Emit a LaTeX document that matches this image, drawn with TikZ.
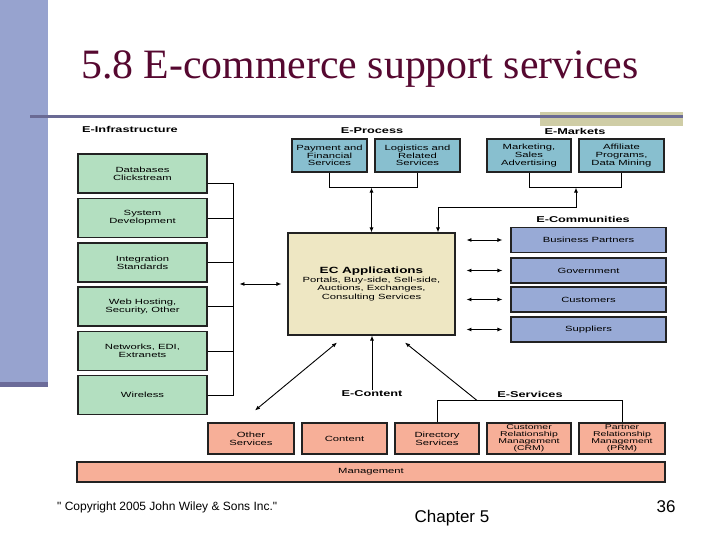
\documentclass[tikz,border=0pt]{standalone}
\usepackage{fontspec}
\setmainfont{Liberation Serif}
\newfontfamily\dg[FakeStretch=1.5]{Liberation Sans}
\newfontfamily\ft{Liberation Sans}
\usetikzlibrary{arrows.meta, calc}
\definecolor{bar}{HTML}{97A3CF}
\definecolor{bardark}{HTML}{6B6B99}
\definecolor{rule}{HTML}{6A6A94}
\definecolor{khaki}{HTML}{CFCDA6}
\definecolor{ttl}{HTML}{560830}
\definecolor{grn}{HTML}{B3DFC0}
\definecolor{proc}{HTML}{88BFCF}
\definecolor{ecy}{HTML}{EEE7C3}
\definecolor{comm}{HTML}{98AAD6}
\definecolor{salm}{HTML}{F7AF98}
\definecolor{edge}{HTML}{222222}
\tikzset{
  txt/.style={font=\dg\fontsize{7.5}{7.7}\selectfont},
  n/.style={draw=edge, line width=1.1pt, align=center, txt, inner sep=0pt},
  ng/.style={n, fill=grn, minimum width=129, minimum height=39},
  np/.style={n, fill=proc, minimum height=33},
  nb/.style={n, fill=comm, minimum width=155, minimum height=25},
  ns/.style={n, fill=salm, minimum height=31},
  ns4/.style={ns, font=\dg\fontsize{7}{7.1}\selectfont},
  hd/.style={font=\dg\bfseries\fontsize{8.5}{9}\selectfont, inner sep=1pt},
  a/.style={-{Latex[length=5pt, width=4pt]}, line width=0.9pt},
  aa/.style={{Latex[length=5pt, width=4pt]}-{Latex[length=5pt, width=4pt]}, line width=0.9pt},
  ln/.style={line width=0.9pt},
}
\begin{document}
\begin{tikzpicture}[x=1pt, y=-1pt]
\useasboundingbox (0,0) rectangle (720,540);
\fill[white] (0,0) rectangle (720,540);
% slide frame
\fill[bar] (0,0) rectangle (48,387);
\fill[bardark] (0,382) rectangle (48,387);
\fill[khaki] (540,112) rectangle (683,126);
\draw[rule, line width=3pt] (30,117) -- (683,117);
\node[anchor=base west, inner sep=0, text=ttl, font=\fontsize{41.8}{45}\selectfont] (title) at (81,79) {5.8 E-commerce support services};

% E-Infrastructure
\node[hd, anchor=west] (hinf) at (81,129) {E-Infrastructure};
\node[ng] (g1) at (142.5,173.5) {Databases\\Clickstream};
\node[ng] (g2) at (142.5,218)   {System\\Development};
\node[ng] (g3) at (142.5,262.5) {Integration\\Standards};
\node[ng] (g4) at (142.5,306.5) {Web Hosting,\\Security, Other};
\node[ng] (g5) at (142.5,351)   {Networks, EDI,\\Extranets};
\node[ng] (g6) at (142.5,395)   {Wireless};

% E-Process, E-Markets
\node[hd] (hproc) at (372,131) {E-Process};
\node[hd] (hmkt)  at (575,131) {E-Markets};
\node[np, minimum width=75] (pay) at (329.5,155.5) {Payment and\\Financial\\Services};
\node[np, minimum width=85] (log) at (417.5,155.5) {Logistics and\\Related\\Services};
\node[np, minimum width=84] (mkt) at (529,155.5)   {Marketing,\\Sales\\Advertising};
\node[np, minimum width=85] (aff) at (621.5,155.5) {Affiliate\\Programs,\\Data Mining};

% EC applications
\node[n, fill=ecy, minimum width=167, minimum height=102, font=\dg\fontsize{7.5}{8.4}\selectfont] (ec) at (371.5,284)
  {{\bfseries\fontsize{9}{10}\selectfont EC Applications}\\Portals, Buy-side, Sell-side,\\Auctions, Exchanges,\\Consulting Services};

% E-Communities
\node[hd] (hcom) at (583,219) {E-Communities};
\node[nb] (bp)  at (588.5,240)   {Business Partners};
\node[nb] (gov) at (588.5,270.5) {Government};
\node[nb] (cus) at (588.5,299.5) {Customers};
\node[nb] (sup) at (588.5,329.5) {Suppliers};

% E-Content, E-Services
\node[hd] (hcon) at (372,394) {E-Content};
\node[hd] (hsrv) at (530,394) {E-Services};
\node[ns, minimum width=86] (oth) at (251,438.5)   {Other\\Services};
\node[ns, minimum width=85] (con) at (344.5,438.5) {Content};
\node[ns, minimum width=84] (dir) at (437,438.5)   {Directory\\Services};
\node[ns4, minimum width=84] (crm) at (529,438.5)  {Customer\\Relationship\\Management\\(CRM)};
\node[ns4, minimum width=86] (prm) at (622,438.5)  {Partner\\Relationship\\Management\\(PRM)};
\node[ns, minimum width=588, minimum height=20] (mgmt) at (371,472) {Management};

% footer
\node[anchor=west, inner sep=0, font=\ft\fontsize{12}{14}\selectfont] (copy) at (57,507) {" Copyright 2005 John Wiley \& Sons Inc."};
\node[inner sep=0, font=\ft\fontsize{17}{20}\selectfont] (chap) at (452,518) {Chapter 5};
\node[inner sep=0, font=\ft\fontsize{17}{20}\selectfont] (page) at (666,507) {36};

% infrastructure bus
\coordinate (bus1) at (233,183);
\coordinate (bus6) at (233,396);
\draw[ln] (g1.east |- bus1) -- (bus1) -- (bus6);
\foreach \g in {g2,g3,g4,g5,g6}
  \draw[ln] (\g.east) -- (\g.east -| bus1);
\draw[aa] ([xshift=-48]ec.west) -- ([xshift=-6]ec.west);

% process and markets brackets
\draw[ln] (pay.south) -- ++(0,15) -| (log.south);
\path (pay.south) ++(0,15) coordinate (pbr);
\draw[aa] (ec.north) -- (ec.north |- pbr);
\draw[ln] (mkt.south) -- ++(0,15) -| (aff.south);
\path (mkt.south) ++(0,15) coordinate (mbr-l);
\coordinate (mbr) at ([xshift=47]mbr-l);
\coordinate (mkt-in) at ([xshift=66.5]ec.north);
\draw[aa] (mbr) -- ++(0,20) -| (mkt-in);

% communities
\foreach \c in {bp,gov,cus,sup}
  \draw[aa] ([xshift=-44]\c.west) -- ([xshift=-8]\c.west);

% content and services
\draw[a] (hcon.north) -- (hcon.north |- ec.south);
\draw[aa] ([shift={(-34.5,7)}]ec.south) -- ([shift={(4,-12)}]oth.north);
\draw[ln] (dir.north) -- ++(0,-22) -| (prm.north);
\coordinate (sbr) at ([shift={(40,-22)}]dir.north);
\draw[a] (sbr) -- ([shift={(33.5,7)}]ec.south);
\end{tikzpicture}
\end{document}
